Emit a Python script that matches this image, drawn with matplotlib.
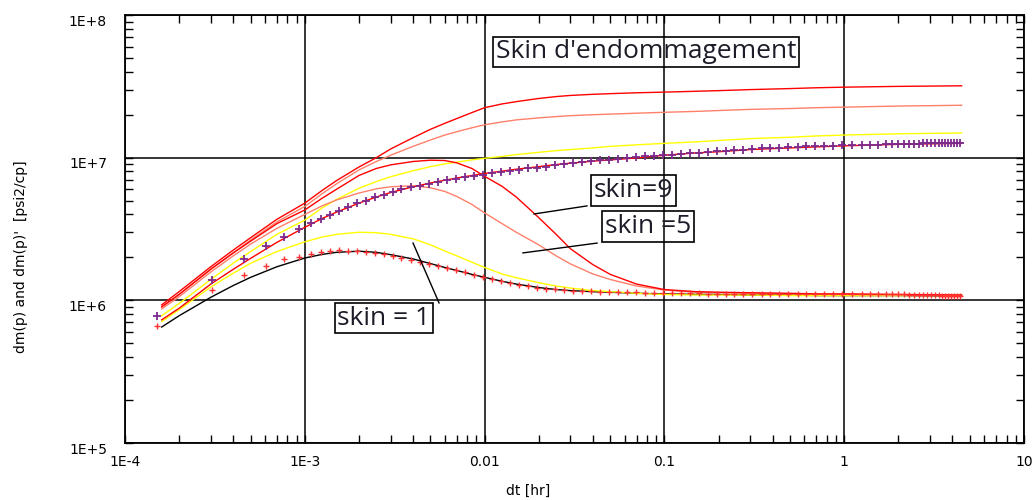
import matplotlib
matplotlib.use('Agg')
import matplotlib.pyplot as plt
from matplotlib.ticker import LogLocator, NullFormatter
from matplotlib.transforms import ScaledTranslation

# temps des courbes du modele [hr]
t_model = [1.6e-4, 2e-4, 3e-4, 4e-4, 5e-4, 7e-4, 1e-3, 1.25e-3, 1.5e-3, 2e-3, 2.5e-3, 3e-3,
           4e-3, 5e-3, 6e-3, 7e-3, 8.5e-3, 0.01, 0.0125, 0.015, 0.02, 0.025, 0.03, 0.04,
           0.05, 0.07, 0.1, 0.15, 0.2, 0.3, 0.5, 0.7, 1, 2, 4.5]

# skin = 9 : pression et derivee
p_skin9 = [9.3e5, 1.15e6, 1.72e6, 2.25e6, 2.75e6, 3.7e6, 4.8e6, 5.9e6, 6.9e6, 8.6e6, 1.0e7, 1.15e7,
           1.38e7, 1.58e7, 1.74e7, 1.88e7, 2.07e7, 2.24e7, 2.38e7, 2.47e7, 2.6e7, 2.68e7, 2.73e7, 2.78e7,
           2.81e7, 2.85e7, 2.88e7, 2.92e7, 2.95e7, 3.0e7, 3.05e7, 3.09e7, 3.12e7, 3.16e7, 3.19e7]
d_skin9 = [9.0e5, 1.1e6, 1.65e6, 2.15e6, 2.6e6, 3.45e6, 4.3e6, 5.2e6, 6.0e6, 7.5e6, 8.4e6, 8.9e6,
           9.4e6, 9.6e6, 9.55e6, 9.2e6, 8.4e6, 7.4e6, 6.3e6, 5.3e6, 3.8e6, 2.9e6, 2.3e6, 1.78e6,
           1.52e6, 1.3e6, 1.19e6, 1.15e6, 1.14e6, 1.13e6, 1.12e6, 1.11e6, 1.11e6, 1.1e6, 1.09e6]

# skin = 5
p_skin5 = [9.0e5, 1.1e6, 1.66e6, 2.15e6, 2.65e6, 3.55e6, 4.55e6, 5.6e6, 6.55e6, 8.2e6, 9.4e6, 1.04e7,
           1.2e7, 1.33e7, 1.44e7, 1.52e7, 1.62e7, 1.7e7, 1.78e7, 1.84e7, 1.9e7, 1.94e7, 1.97e7, 2.0e7,
           2.02e7, 2.05e7, 2.08e7, 2.11e7, 2.14e7, 2.18e7, 2.21e7, 2.24e7, 2.26e7, 2.3e7, 2.33e7]
d_skin5 = [8.7e5, 1.06e6, 1.58e6, 2.05e6, 2.48e6, 3.2e6, 4.0e6, 4.6e6, 5.05e6, 5.65e6, 6.05e6, 6.25e6,
           6.35e6, 6.15e6, 5.8e6, 5.35e6, 4.7e6, 4.1e6, 3.45e6, 3.0e6, 2.45e6, 2.05e6, 1.8e6, 1.53e6,
           1.4e6, 1.26e6, 1.18e6, 1.14e6, 1.13e6, 1.12e6, 1.11e6, 1.1e6, 1.1e6, 1.09e6, 1.09e6]

# skin = 1
p_skin1 = [7.8e5, 9.5e5, 1.4e6, 1.82e6, 2.2e6, 2.9e6, 3.65e6, 4.45e6, 5.1e6, 6.1e6, 6.8e6, 7.35e6,
           8.1e6, 8.65e6, 9.05e6, 9.3e6, 9.65e6, 9.9e6, 1.02e7, 1.05e7, 1.09e7, 1.12e7, 1.14e7, 1.17e7,
           1.2e7, 1.23e7, 1.26e7, 1.29e7, 1.32e7, 1.36e7, 1.39e7, 1.42e7, 1.44e7, 1.47e7, 1.49e7]
d_skin1 = [7.1e5, 8.6e5, 1.24e6, 1.55e6, 1.82e6, 2.2e6, 2.57e6, 2.78e6, 2.9e6, 3.0e6, 2.98e6, 2.9e6,
           2.7e6, 2.45e6, 2.22e6, 2.05e6, 1.85e6, 1.7e6, 1.53e6, 1.44e6, 1.33e6, 1.26e6, 1.22e6, 1.17e6,
           1.15e6, 1.12e6, 1.1e6, 1.09e6, 1.09e6, 1.09e6, 1.08e6, 1.08e6, 1.08e6, 1.08e6, 1.08e6]

# modele cale sur les mesures
p_match = [7.3e5, 8.8e5, 1.3e6, 1.65e6, 1.97e6, 2.55e6, 3.25e6, 3.75e6, 4.15e6, 4.8e6, 5.3e6, 5.7e6,
           6.25e6, 6.65e6, 6.95e6, 7.2e6, 7.5e6, 7.75e6, 8.05e6, 8.3e6, 8.65e6, 8.95e6, 9.15e6, 9.45e6,
           9.65e6, 9.95e6, 1.04e7, 1.08e7, 1.1e7, 1.14e7, 1.17e7, 1.19e7, 1.21e7, 1.24e7, 1.26e7]
d_match = [6.5e5, 7.8e5, 1.05e6, 1.27e6, 1.45e6, 1.72e6, 1.98e6, 2.1e6, 2.17e6, 2.21e6, 2.17e6, 2.09e6,
           1.95e6, 1.81e6, 1.7e6, 1.62e6, 1.52e6, 1.45e6, 1.36e6, 1.3e6, 1.23e6, 1.19e6, 1.17e6, 1.15e6,
           1.14e6, 1.12e6, 1.11e6, 1.1e6, 1.1e6, 1.09e6, 1.09e6, 1.08e6, 1.08e6, 1.08e6, 1.07e6]

# mesures
t_data = [1.5e-4, 3.05e-4, 4.6e-4, 6.1e-4, 7.7e-4, 9.3e-4, 1.08e-3, 1.23e-3, 1.38e-3, 1.54e-3,
          1.75e-3, 1.95e-3, 2.2e-3, 2.45e-3, 2.75e-3, 3.1e-3, 3.45e-3, 3.9e-3, 4.35e-3, 4.9e-3,
          5.5e-3, 6.15e-3, 6.9e-3, 7.75e-3, 8.7e-3, 9.75e-3,
          0.011, 0.0123, 0.0138, 0.0155, 0.0174, 0.0195, 0.0219, 0.0245, 0.0275, 0.0309,
          0.0347, 0.0389, 0.0436, 0.049, 0.055, 0.0617, 0.0692, 0.0776, 0.0871, 0.0977,
          0.11, 0.123, 0.138, 0.155, 0.174, 0.195, 0.219, 0.245, 0.275, 0.309,
          0.347, 0.389, 0.436, 0.49, 0.55, 0.617, 0.692, 0.776, 0.871, 0.977,
          1.1, 1.25, 1.4, 1.55, 1.7, 1.85, 2.0, 2.15, 2.3, 2.45, 2.6, 2.75,
          2.9, 3.05, 3.2, 3.35, 3.5, 3.65, 3.8, 3.95, 4.1, 4.25, 4.4]
p_data = [7.8e5, 1.39e6, 1.94e6, 2.4e6, 2.8e6, 3.15e6, 3.47e6, 3.72e6, 3.96e6, 4.25e6,
          4.49e6, 4.79e6, 5.0e6, 5.28e6, 5.48e6, 5.78e6, 6.0e6, 6.21e6, 6.37e6, 6.55e6,
          6.8e6, 6.98e6, 7.13e6, 7.3e6, 7.49e6, 7.57e6,
          7.78e6, 7.96e6, 8.07e6, 8.25e6, 8.4e6, 8.5e6, 8.6e6, 8.9e6, 9.1e6, 9.2e6,
          9.35e6, 9.5e6, 9.6e6, 9.7e6, 9.85e6, 9.95e6, 1.01e7, 1.02e7, 1.03e7, 1.04e7,
          1.05e7, 1.06e7, 1.07e7, 1.085e7, 1.1e7, 1.11e7, 1.12e7, 1.13e7, 1.14e7, 1.15e7,
          1.16e7, 1.165e7, 1.17e7, 1.18e7, 1.19e7, 1.2e7, 1.2e7, 1.21e7, 1.21e7, 1.22e7,
          1.22e7, 1.225e7, 1.23e7, 1.235e7, 1.24e7, 1.24e7, 1.245e7, 1.25e7, 1.25e7, 1.255e7,
          1.255e7, 1.26e7, 1.26e7, 1.26e7, 1.265e7, 1.265e7, 1.265e7, 1.27e7, 1.27e7, 1.27e7,
          1.27e7, 1.275e7, 1.275e7]
d_data = [6.65e5, 1.18e6, 1.51e6, 1.74e6, 1.94e6, 2.02e6, 2.11e6, 2.19e6, 2.23e6, 2.25e6,
          2.23e6, 2.22e6, 2.19e6, 2.16e6, 2.1e6, 2.05e6, 1.99e6, 1.93e6, 1.85e6, 1.79e6,
          1.73e6, 1.68e6, 1.62e6, 1.57e6, 1.51e6, 1.46e6,
          1.41e6, 1.37e6, 1.33e6, 1.29e6, 1.26e6, 1.23e6, 1.21e6, 1.2e6, 1.19e6, 1.17e6,
          1.16e6, 1.16e6, 1.15e6, 1.15e6, 1.14e6, 1.14e6, 1.14e6, 1.13e6, 1.13e6, 1.13e6,
          1.12e6, 1.12e6, 1.12e6, 1.12e6, 1.11e6, 1.11e6, 1.11e6, 1.11e6, 1.11e6, 1.1e6,
          1.1e6, 1.1e6, 1.1e6, 1.1e6, 1.1e6, 1.1e6, 1.1e6, 1.1e6, 1.1e6, 1.1e6,
          1.1e6, 1.1e6, 1.1e6, 1.1e6, 1.1e6, 1.1e6, 1.1e6, 1.1e6, 1.09e6, 1.09e6,
          1.09e6, 1.09e6, 1.09e6, 1.09e6, 1.09e6, 1.09e6, 1.08e6, 1.08e6, 1.08e6, 1.08e6,
          1.08e6, 1.08e6, 1.08e6]

x_ticks = [1e-4, 1e-3, 0.01, 0.1, 1, 10]
x_labels = ['1E-4', '1E-3', '0.01', '0.1', '1', '10']
y_ticks = [1e5, 1e6, 1e7, 1e8]
y_labels = ['1E+5', '1E+6', '1E+7', '1E+8']

# etiquettes : texte, position du cadre (fraction des axes), trait de rappel (donnees)
etiquettes = [
    ("Skin d'endommagement", (0.5795, 0.9136), None),
    ('skin=9', (0.5656, 0.590), ([0.01884, 0.0371], [4.03e6, 4.59e6])),
    ('skin =5', (0.5818, 0.5058), ([0.01635, 0.0422], [2.15e6, 2.52e6])),
    ('skin = 1', (0.2881, 0.292), ([0.0040, 0.00558], [2.52e6, 9.59e5])),
]

ROUGE = '#ff0000'
SAUMON = '#ff806a'
JAUNE = '#ffff00'
VIOLET = '#7d2a8c'

fig = plt.figure(figsize=(10.34, 5.0), dpi=100)
ax = fig.add_axes([125 / 1034, 57 / 500, 899 / 1034, 428 / 500])
ax.set_xscale('log')
ax.set_yscale('log')

lw = 1.0
ax.plot(t_model, d_match, color='black', lw=lw, zorder=2)
ax.plot(t_data, d_data, '+', color='#ff3030', ms=4, mew=1.0, zorder=3)
ax.plot(t_model, p_skin1, color=JAUNE, lw=lw, zorder=2.2)
ax.plot(t_model, d_skin1, color=JAUNE, lw=lw, zorder=2.2)
ax.plot(t_model, p_skin5, color=SAUMON, lw=lw, zorder=2.3)
ax.plot(t_model, d_skin5, color=SAUMON, lw=lw, zorder=2.3)
ax.plot(t_model, p_skin9, color=ROUGE, lw=lw, zorder=2.4)
ax.plot(t_model, d_skin9, color=ROUGE, lw=lw, zorder=2.4)
ax.plot(t_model, p_match, color=ROUGE, lw=lw, zorder=2.5)
ax.plot(t_data, p_data, '+', color=VIOLET, ms=6, mew=1.3, zorder=2.6)

for texte, (bx, by), trait in etiquettes:
    ax.text(bx, by, texte, transform=ax.transAxes, ha='center', va='center',
            fontsize=19, family='Open Sans', color='#1c1c28', zorder=4,
            bbox=dict(boxstyle='square,pad=0.1', facecolor='none', edgecolor='black', lw=1.2))
    if trait is not None:
        ax.plot(trait[0], trait[1], color='black', lw=1.0, zorder=4)

ax.set_xlim(1e-4, 10)
ax.set_ylim(1e5, 1e8)
ax.set_xticks(x_ticks)
ax.set_xticklabels(x_labels)
ax.set_yticks(y_ticks)
ax.set_yticklabels(y_labels)
ax.xaxis.set_minor_locator(LogLocator(base=10, subs=range(2, 10), numticks=20))
ax.yaxis.set_minor_locator(LogLocator(base=10, subs=range(2, 10), numticks=20))
ax.xaxis.set_minor_formatter(NullFormatter())
ax.yaxis.set_minor_formatter(NullFormatter())

ax.grid(True, which='major', color='black', lw=1.1)
for sp in ax.spines.values():
    sp.set_linewidth(1.3)
    sp.set_color('black')

ax.tick_params(which='both', direction='in', top=True, right=True, length=5.5, width=1.0)
ax.tick_params(axis='x', labelsize=10, pad=9)
ax.tick_params(axis='y', labelsize=10, pad=13)

decalage = ScaledTranslation(0, -5 / 100, fig.dpi_scale_trans)
for lab in ax.get_yticklabels():
    lab.set_transform(lab.get_transform() + decalage)

ax.set_xlabel('dt [hr]', fontsize=10)
ax.xaxis.set_label_coords(0.448, -0.095)
ax.set_ylabel("dm(p) and dm(p)'  [psi2/cp]", fontsize=10)
ax.yaxis.set_label_coords(-0.108, 0.435)

fig.savefig('out.png', dpi=100, facecolor='white')
